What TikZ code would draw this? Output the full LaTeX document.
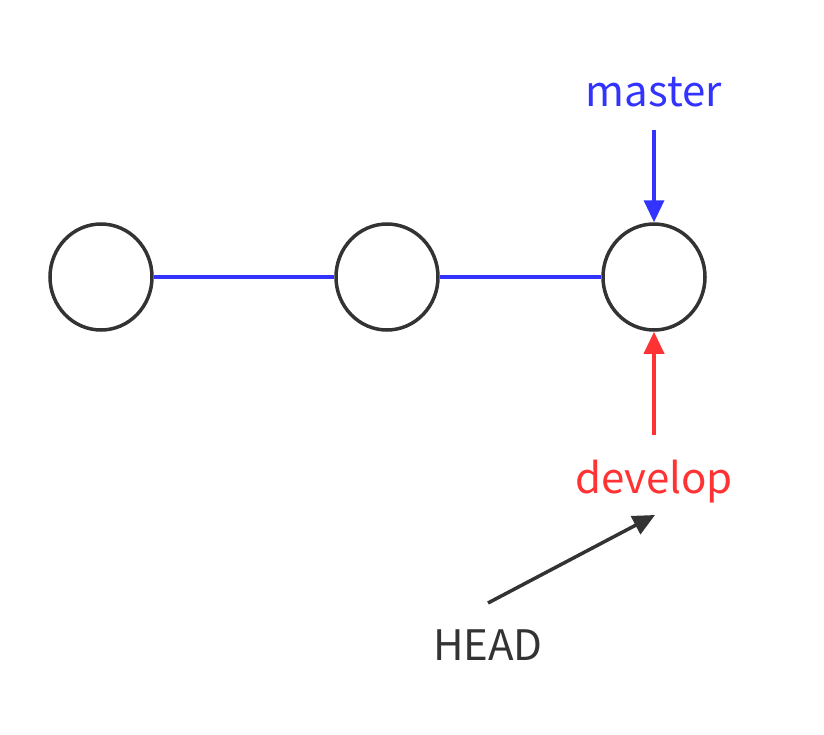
\documentclass[tikz,border=0pt]{standalone}
\usepackage{fontspec}
\setmainfont{Noto Sans CJK SC}
\usetikzlibrary{arrows.meta,shapes.geometric}
\definecolor{cblue}{HTML}{3333FF}
\definecolor{cred}{HTML}{FF3333}
\definecolor{cdark}{HTML}{333333}
\begin{document}
\begin{tikzpicture}[x=1pt,y=-1pt,
  commit/.style={ellipse,draw=cdark,line width=3.5pt,minimum width=102pt,minimum height=106pt,inner sep=0pt},
  lbl/.style={font=\fontsize{42}{48}\selectfont,inner sep=0pt,anchor=base},
  arr/.style={line width=3.5pt,-{Triangle[length=22pt,width=20pt]}}]
\useasboundingbox (0,0) rectangle (824,734);
\node[commit] (c1) at (101,277) {};
\node[commit] (c2) at (387,277) {};
\node[commit] (c3) at (654,277) {};
\draw[cblue,line width=3.5pt] (c1) -- (c2);
\draw[cblue,line width=3.5pt] (c2) -- (c3);
\node[lbl,text=cblue] (master) at (654,106) {master};
\node[lbl,text=cred] (develop) at (654,493) {develop};
\node[lbl,text=cdark] (head) at (488,660) {HEAD};
\coordinate (ms) at (654,130);
\coordinate (ds) at (654,435);
\coordinate (hs) at (488,603);
\coordinate (he) at (655,515);
\draw[arr,cblue] (ms) -- (c3.north);
\draw[arr,cred] (ds) -- (c3.south);
\draw[arr,cdark] (hs) -- (he);
\end{tikzpicture}
\end{document}
